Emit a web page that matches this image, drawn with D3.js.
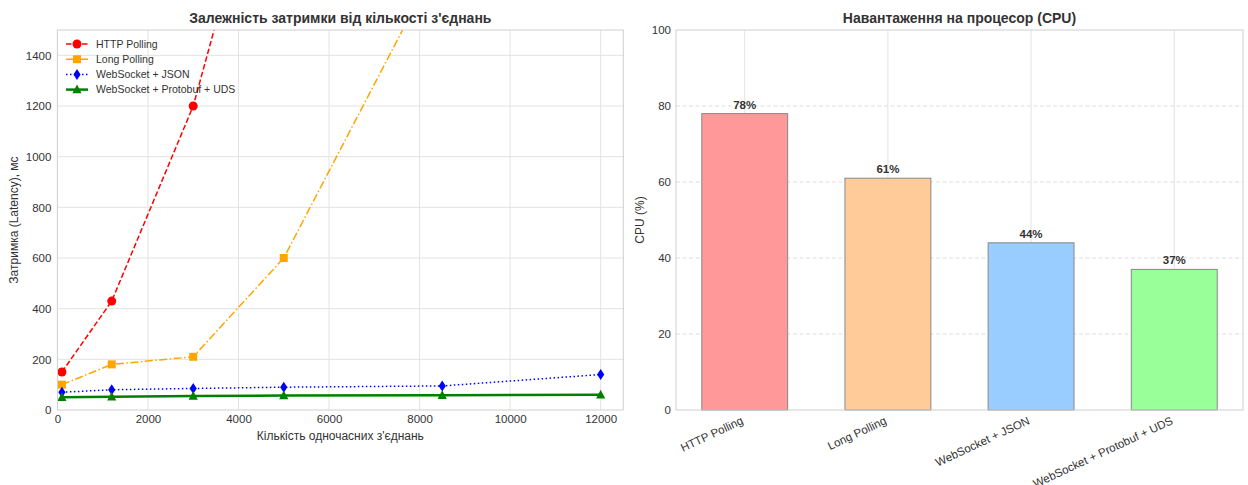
<!DOCTYPE html>
<html>
<head>
<meta charset="utf-8">
<script src="https://cdn.jsdelivr.net/npm/d3@7/dist/d3.min.js"></script>
<style>
  body { margin: 0; background: #fff; }
  svg { font-family: "Liberation Sans", Arial, sans-serif; }
</style>
</head>
<body>
<svg id="chart" width="1248" height="485"></svg>
<script>
// ---------- DATA ----------
const connections = [100, 1200, 3000, 5000, 8500, 12000];
const httpPolling = [150, 430, 1200, 2500];
const longPolling = [100, 180, 210, 600, 1800];
const wsJson = [70, 80, 85, 90, 95, 140];
const wsProtobuf = [50, 52, 55, 57, 58, 60];
const seriesNames = ["HTTP Polling", "Long Polling", "WebSocket + JSON", "WebSocket + Protobuf + UDS"];
const latencyTicks = [0, 200, 400, 600, 800, 1000, 1200, 1400];
const connTicks = [0, 2000, 4000, 6000, 8000, 10000, 12000];

const cpuCategories = ["HTTP Polling", "Long Polling", "WebSocket + JSON", "WebSocket + Protobuf + UDS"];
const cpuValues = [78, 61, 44, 37];
const cpuTicks = [0, 20, 40, 60, 80, 100];

// ---------- SETUP ----------
const svg = d3.select("#chart");
const textColor = "#333";
const gridColor = "#e3e3e3";
const frameColor = "#cfcfcf";

// ===== LEFT CHART =====
const L = { left: 57.4, right: 623.3, top: 30, bottom: 410 };
const x1 = d3.scaleLinear().domain([0, 12500]).range([L.left, L.right]);
const y1 = d3.scaleLinear().domain([0, 1500]).range([L.bottom, L.top]);

const g1 = svg.append("g");
// grid
g1.append("g").selectAll("line").data(connTicks.filter(d => d > 0)).join("line")
  .attr("x1", d => x1(d)).attr("x2", d => x1(d)).attr("y1", L.top).attr("y2", L.bottom)
  .attr("stroke", gridColor).attr("stroke-width", 1);
g1.append("g").selectAll("line").data(latencyTicks.filter(d => d > 0)).join("line")
  .attr("x1", L.left).attr("x2", L.right).attr("y1", d => y1(d)).attr("y2", d => y1(d))
  .attr("stroke", gridColor).attr("stroke-width", 1);

// axes (labels only)
const xAxis1 = g1.append("g").attr("transform", `translate(0,${L.bottom})`)
  .call(d3.axisBottom(x1).tickValues(connTicks).tickSize(0).tickPadding(5).tickFormat(d3.format("d")));
const yAxis1 = g1.append("g").attr("transform", `translate(${L.left},0)`)
  .call(d3.axisLeft(y1).tickValues(latencyTicks).tickSize(0).tickPadding(6).tickFormat(d3.format("d")));
[xAxis1, yAxis1].forEach(a => {
  a.select(".domain").remove();
  a.selectAll("text").attr("fill", textColor).style("font-size", "11.5px");
});

// clip
svg.append("defs").append("clipPath").attr("id", "clipL")
  .append("rect").attr("x", L.left).attr("y", L.top).attr("width", L.right - L.left).attr("height", L.bottom - L.top);

const series = [
  { name: seriesNames[0], vals: httpPolling, color: "#ff0000", dash: "5.5,2.5", width: 1.5, marker: "circle" },
  { name: seriesNames[1], vals: longPolling, color: "#ffa500", dash: "8,2.5,1.5,2.5", width: 1.5, marker: "square" },
  { name: seriesNames[2], vals: wsJson, color: "#0000ff", dash: "1.5,2.5", width: 1.5, marker: "diamond" },
  { name: seriesNames[3], vals: wsProtobuf, color: "#008000", dash: null, width: 2.5, marker: "triangle" }
];

function drawMarker(sel, type, color) {
  if (type === "circle") {
    sel.append("circle").attr("r", 4.5).attr("fill", color);
  } else if (type === "square") {
    sel.append("rect").attr("x", -4).attr("y", -4).attr("width", 8).attr("height", 8).attr("fill", color);
  } else if (type === "diamond") {
    sel.append("path").attr("d", "M0,-5.5L3.6,0L0,5.5L-3.6,0Z").attr("fill", color);
  } else if (type === "triangle") {
    sel.append("path").attr("d", "M0,-5L4.6,3.6L-4.6,3.6Z").attr("fill", color);
  }
}

const plotG = g1.append("g").attr("clip-path", "url(#clipL)");
series.forEach(s => {
  const pts = s.vals.map((v, i) => [connections[i], v]);
  const line = d3.line().x(d => x1(d[0])).y(d => y1(d[1]));
  plotG.append("path").datum(pts).attr("d", line)
    .attr("fill", "none").attr("stroke", s.color).attr("stroke-width", s.width)
    .attr("stroke-dasharray", s.dash);
});
series.forEach(s => {
  const pts = s.vals.map((v, i) => [connections[i], v]);
  pts.forEach(p => {
    const m = plotG.append("g").attr("transform", `translate(${x1(p[0])},${y1(p[1])})`);
    drawMarker(m, s.marker, s.color);
  });
});

// frame
g1.append("rect").attr("x", L.left).attr("y", L.top).attr("width", L.right - L.left).attr("height", L.bottom - L.top)
  .attr("fill", "none").attr("stroke", frameColor).attr("stroke-width", 1);

// legend
const leg = g1.append("g");
series.forEach((s, i) => {
  const yy = 44 + i * 15.2;
  leg.append("line").attr("x1", 66).attr("x2", 88).attr("y1", yy).attr("y2", yy)
    .attr("stroke", s.color).attr("stroke-width", s.width).attr("stroke-dasharray", s.dash);
  const m = leg.append("g").attr("transform", `translate(77,${yy})`);
  drawMarker(m, s.marker, s.color);
  leg.append("text").attr("x", 96).attr("y", yy).attr("dy", "0.35em")
    .attr("fill", textColor).style("font-size", "10.5px").text(s.name);
});

// titles & labels
g1.append("text").attr("x", (L.left + L.right) / 2).attr("y", 23).attr("text-anchor", "middle")
  .attr("fill", textColor).style("font-size", "14px").style("font-weight", "bold")
  .text("Залежність затримки від кількості з'єднань");
g1.append("text").attr("x", (L.left + L.right) / 2).attr("y", 440).attr("text-anchor", "middle")
  .attr("fill", textColor).style("font-size", "12px").text("Кількість одночасних з'єднань");
g1.append("text").attr("transform", `translate(18,${(L.top + L.bottom) / 2}) rotate(-90)`).attr("text-anchor", "middle")
  .attr("fill", textColor).style("font-size", "12px").text("Затримка (Latency), мс");

// ===== RIGHT CHART =====
const R = { left: 676, right: 1243, top: 30, bottom: 410 };
const x2 = d3.scaleBand().domain(cpuCategories).range([R.left, R.right]).paddingInner(0.4).paddingOuter(0.18);
const y2 = d3.scaleLinear().domain([0, 100]).range([R.bottom, R.top]);

const g2 = svg.append("g");
// grid
g2.append("g").selectAll("line").data(cpuCategories).join("line")
  .attr("x1", d => x2(d) + x2.bandwidth() / 2).attr("x2", d => x2(d) + x2.bandwidth() / 2)
  .attr("y1", R.top).attr("y2", R.bottom).attr("stroke", gridColor).attr("stroke-width", 1);
g2.append("g").selectAll("line").data(cpuTicks.filter(d => d > 0 && d < 100)).join("line")
  .attr("x1", R.left).attr("x2", R.right).attr("y1", d => y2(d)).attr("y2", d => y2(d))
  .attr("stroke", "#dddddd").attr("stroke-width", 1).attr("stroke-dasharray", "4,2.5");

const yAxis2 = g2.append("g").attr("transform", `translate(${R.left},0)`)
  .call(d3.axisLeft(y2).tickValues(cpuTicks).tickSize(0).tickPadding(5));
yAxis2.select(".domain").remove();
yAxis2.selectAll("text").attr("fill", textColor).style("font-size", "11.5px");

// bars
g2.append("g").selectAll("rect").data(cpuValues).join("rect")
  .attr("x", (d, i) => x2(cpuCategories[i]))
  .attr("y", d => y2(d))
  .attr("width", x2.bandwidth())
  .attr("height", d => y2(0) - y2(d))
  .attr("fill", (d, i) => ["#ff9999", "#ffcc99", "#99ccff", "#99ff99"][i])
  .attr("stroke", "#888").attr("stroke-width", 1);

// bar labels
g2.append("g").selectAll("text").data(cpuValues).join("text")
  .attr("x", (d, i) => x2(cpuCategories[i]) + x2.bandwidth() / 2)
  .attr("y", d => y2(d) - 5)
  .attr("text-anchor", "middle").attr("fill", textColor)
  .style("font-size", "11.5px").style("font-weight", "bold")
  .text(d => d + "%");

// x tick labels rotated
g2.append("g").selectAll("text").data(cpuCategories).join("text")
  .attr("transform", d => `translate(${x2(d) + x2.bandwidth() / 2 - 4},${R.bottom + 6}) rotate(-25)`)
  .attr("text-anchor", "end").attr("dy", "0.71em")
  .attr("fill", textColor).style("font-size", "11.5px").text(d => d);

// frame
g2.append("rect").attr("x", R.left).attr("y", R.top).attr("width", R.right - R.left).attr("height", R.bottom - R.top)
  .attr("fill", "none").attr("stroke", frameColor).attr("stroke-width", 1);

g2.append("text").attr("x", (R.left + R.right) / 2).attr("y", 23).attr("text-anchor", "middle")
  .attr("fill", textColor).style("font-size", "14px").style("font-weight", "bold")
  .text("Навантаження на процесор (CPU)");
g2.append("text").attr("transform", `translate(644,${(R.top + R.bottom) / 2}) rotate(-90)`).attr("text-anchor", "middle")
  .attr("fill", textColor).style("font-size", "12px").text("CPU (%)");
</script>
</body>
</html>
